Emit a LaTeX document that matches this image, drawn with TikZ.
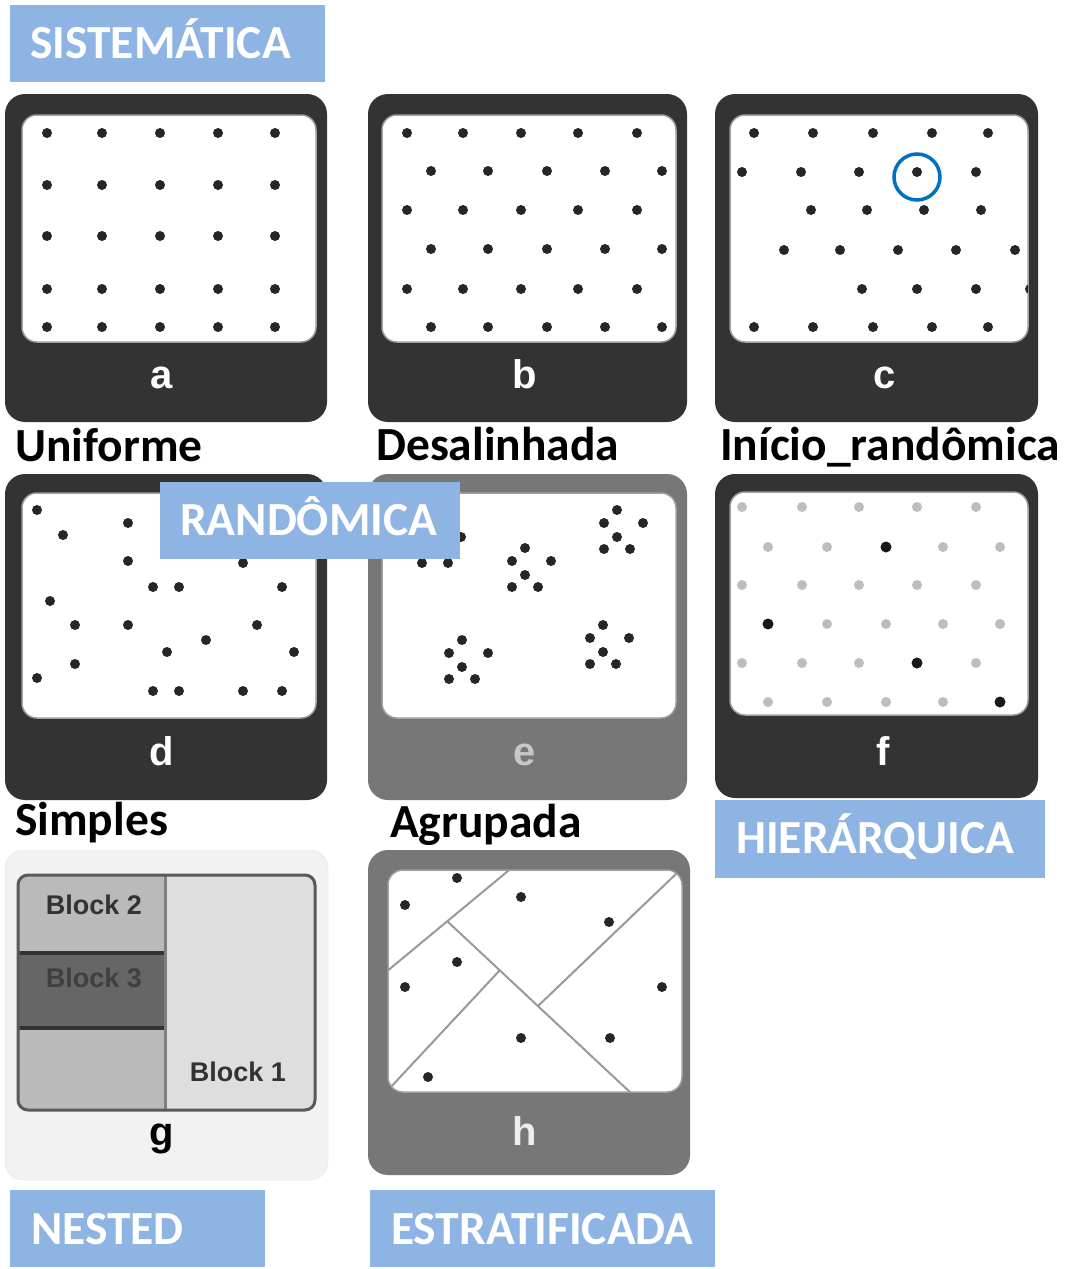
\documentclass[tikz,border=0pt]{standalone}
\usepackage{fontspec}
\newfontfamily\calfam{Carlito}
\newfontfamily\arialfam{Liberation Sans}
\definecolor{catblue}{HTML}{8EB4E3}
\definecolor{frdark}{HTML}{333333}
\definecolor{frgray}{HTML}{777777}
\definecolor{dotc}{HTML}{262626}
\definecolor{dotlight}{HTML}{BDBDBD}
\definecolor{ringblue}{HTML}{0070C0}
\definecolor{scrborder}{HTML}{A0A0A0}
\begin{document}
\begin{tikzpicture}[x=1pt,y=-1pt,
  frame/.style={fill=#1, rounded corners=20pt},
  screen/.style={fill=white, draw=scrborder, line width=1.5pt, rounded corners=15pt},
  catbox/.style={fill=catblue},
  catlabel/.style={anchor=base west, inner sep=0pt, text=white, font=\calfam\bfseries\fontsize{47.5}{50}\selectfont},
  namelabel/.style={anchor=base west, inner sep=0pt, text=black, font=\calfam\bfseries\fontsize{47.5}{50}\selectfont},
  letter/.style={anchor=base, inner sep=0pt, text=#1, font=\arialfam\bfseries\fontsize{40}{46}\selectfont},
  blocktext/.style={inner sep=0pt, text=#1, font=\arialfam\bfseries\fontsize{27}{30}\selectfont},
  hline/.style={draw=black!40, line width=2pt},
  dotr/.style={fill=dotc}
]
\fill[white] (0,0) rectangle (1066,1269);
\useasboundingbox (0,0) rectangle (1066,1269);

% ---------- Panel a ----------
\fill[frame=frdark] (5,94) rectangle (327,422);
\filldraw[screen] (22,115) rectangle (316,342);
\foreach \x in {47,102,160,218,275}
  \foreach \y in {133,185,236,289,327}
    \fill[dotr] (\x,\y) circle (5pt);
\node[letter=white] (la) at (162,388) {a};

% ---------- Panel b ----------
\fill[frame=frdark] (368,94) rectangle (687,422);
\filldraw[screen] (382,115) rectangle (676,342);
\foreach \y in {133,210,289}
  \foreach \x in {407,463,521,578,637}
    \fill[dotr] (\x,\y) circle (5pt);
\foreach \y in {171,249,327}
  \foreach \x in {431,488,547,605,662}
    \fill[dotr] (\x,\y) circle (5pt);
\node[letter=white] (lb) at (525,388) {b};

% ---------- Panel c ----------
\fill[frame=frdark] (715,94) rectangle (1038,422);
\filldraw[screen] (730,115) rectangle (1028,342);
\begin{scope}
\clip[rounded corners=15pt] (730,115) rectangle (1028,342);
\foreach \x/\y in {754/133,813/133,873/133,932/133,988/133,
  742/172,801/172,859/172,917/172,976/172,
  811/210,867/210,924/210,981/210,
  784/250,840/250,898/250,956/250,1015/250,
  862/289,917/289,976/289,1030/289,
  754/327,813/327,873/327,932/327,988/327}
  \fill[dotr] (\x,\y) circle (5pt);
\end{scope}
\draw[ringblue, line width=3.5pt] (917,177) circle (23pt);
\node[letter=white] (lc) at (885,388) {c};

% ---------- Panel d ----------
\fill[frame=frdark] (5,474) rectangle (327,800);
\filldraw[screen] (22,493) rectangle (316,718);
\foreach \x/\y in {37/510,128/523,63/535,128/561,243/563,153/587,179/587,282/587,
  50/601,75/625,128/625,257/625,206/640,167/652,294/652,75/664,37/678,
  153/691,179/691,243/691,282/691}
  \fill[dotr] (\x,\y) circle (5pt);
\node[letter=white] (ld) at (162,765) {d};

% ---------- Panel e ----------
\fill[frame=frgray] (368,474) rectangle (687,800);
\filldraw[screen] (382,493) rectangle (676,718);
\foreach \cx/\cy in {435/524,525/548,617/510,462/640,603/625}
  \foreach \dx/\dy in {0/0,-13/13,26/13,0/27,-13/39,13/39}
    \fill[dotr] (\cx+\dx,\cy+\dy) circle (5pt);
\node[letter=black!22] (le) at (525,765) {e};

% ---------- Panel f ----------
\fill[frame=frdark] (715,474) rectangle (1038,798);
\filldraw[screen] (730,492) rectangle (1028,715);
\foreach \y in {507,585,663}
  \foreach \x in {742,802,859,917,976}
    \fill[dotlight] (\x,\y) circle (5pt);
\foreach \y in {547,624,702}
  \foreach \x in {768,827,886,943,1000}
    \fill[dotlight] (\x,\y) circle (5pt);
\foreach \x/\y in {886/547,768/624,917/663,1000/702}
  \fill[black!90] (\x,\y) circle (5.5pt);
\node[letter=white] (lf) at (883,765) {f};

% ---------- Panel g ----------
\filldraw[fill=black!5, draw=black!10, rounded corners=18pt] (5,850) rectangle (328,1180);
\begin{scope}
\clip[rounded corners=10pt] (18,875) rectangle (315,1110);
\fill[black!27] (18,875) rectangle (165,953);
\fill[black!60] (18,953) rectangle (165,1028);
\fill[black!27] (18,1028) rectangle (165,1110);
\fill[black!13] (165,875) rectangle (315,1110);
\end{scope}
\draw[frdark, line width=4pt] (18,953) -- (165,953);
\draw[frdark, line width=4pt] (18,1028) -- (165,1028);
\draw[black!50, line width=3pt] (165,875) -- (165,1110);
\draw[black!65, line width=3pt, rounded corners=10pt] (18,875) rectangle (315,1110);
\node[blocktext=black!80] (b2) at (94,905) {Block 2};
\node[blocktext=black!75] (b3) at (94,978) {Block 3};
\node[blocktext=black!80] (b1) at (238,1072) {Block 1};
\node[letter=black] (lg) at (162,1145) {g};

% ---------- Panel h ----------
\fill[frame=frgray] (368,850) rectangle (690,1175);
\filldraw[screen] (388,870) rectangle (682,1092);
\begin{scope}
\clip[rounded corners=15pt] (388,870) rectangle (682,1092);
\coordinate (h1a) at (514,866);
\coordinate (h1b) at (386,972);
\coordinate (h2a) at (447,921);
\coordinate (h2b) at (632,1094);
\coordinate (h3a) at (677,873);
\coordinate (h3b) at (538,1006);
\coordinate (h4a) at (500,970);
\coordinate (h4b) at (389,1089);
\draw[hline] (h1a) -- (h1b);
\draw[hline] (h2a) -- (h2b);
\draw[hline] (h3a) -- (h3b);
\draw[hline] (h4a) -- (h4b);
\end{scope}
\foreach \x/\y in {457/878,521/897,405/905,609/922,457/962,405/987,662/987,521/1038,610/1038,428/1077}
  \fill[dotr] (\x,\y) circle (5pt);
\node[letter=black!7] (lh) at (525,1145) {h};

% ---------- Category boxes ----------
\fill[catbox] (10,5) rectangle (325,82);
\node[catlabel] (sist) at (30,58) {SISTEMÁTICA};
\fill[catbox] (160,482) rectangle (460,559);
\node[catlabel] (rand) at (180,535) {RANDÔMICA};
\fill[catbox] (715,800) rectangle (1045,878);
\node[catlabel] (hier) at (736,853) {HIERÁRQUICA};
\fill[catbox] (10,1190) rectangle (265,1267);
\node[catlabel] (nest) at (31,1244) {NESTED};
\fill[catbox] (370,1190) rectangle (715,1267);
\node[catlabel] (estr) at (391,1244) {ESTRATIFICADA};

% ---------- Names ----------
\node[namelabel] (nuni) at (15,461) {Uniforme};
\node[namelabel] (ndes) at (376,460) {Desalinhada};
\node[namelabel] (nini) at (720,460) {Início\_randômica};
\node[namelabel] (nsim) at (15,835) {Simples};
\node[namelabel] (nagr) at (390,837) {Agrupada};
\end{tikzpicture}
\end{document}
